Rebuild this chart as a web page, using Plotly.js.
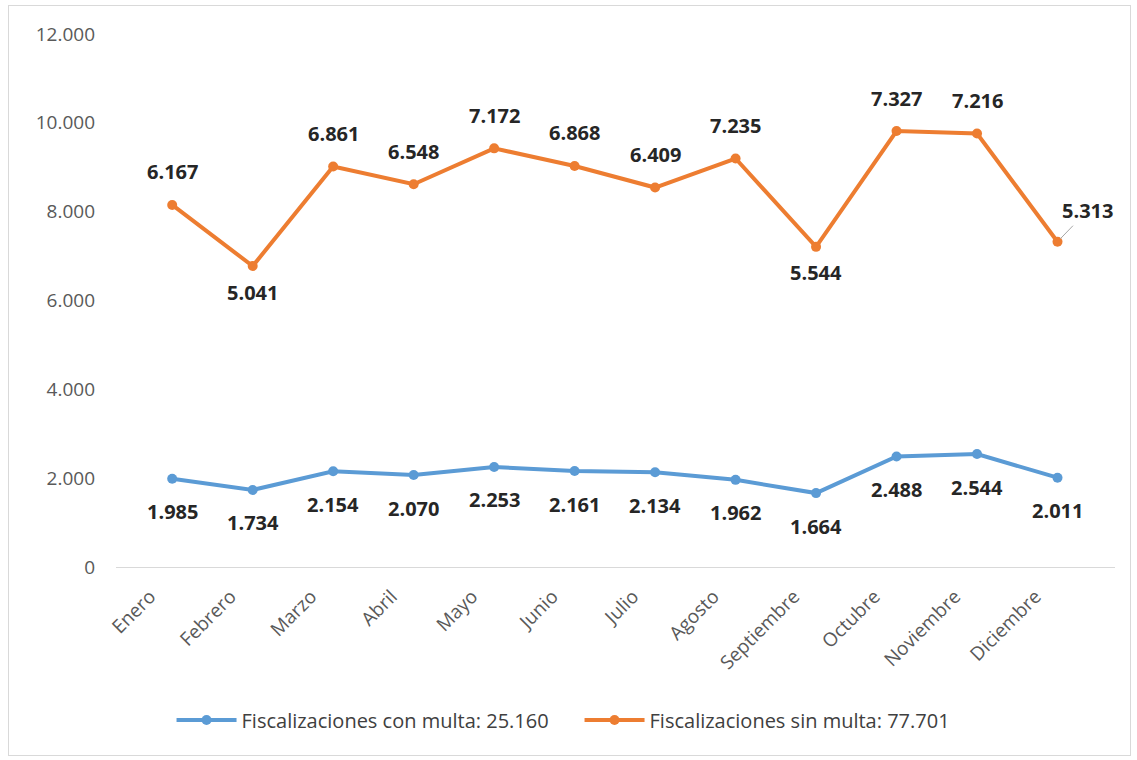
<!DOCTYPE html>
<html><head><meta charset="utf-8">
<script src="https://cdn.plot.ly/plotly-3.0.1.min.js"></script>
<style>
html,body{margin:0;padding:0;background:#fff;}
#frame{position:absolute;left:8px;top:5px;width:1121px;height:749px;border:1px solid #d9d9d9;}
#chart{position:absolute;left:0;top:0;width:1137px;height:760px;}
</style></head>
<body>
<div id="frame"></div>
<div id="chart"></div>
<script>
const months = ["Enero","Febrero","Marzo","Abril","Mayo","Junio","Julio","Agosto","Septiembre","Octubre","Noviembre","Diciembre"];
const conMulta = [1985,1734,2154,2070,2253,2161,2134,1962,1664,2488,2544,2011];
const sinMulta = [6167,5041,6861,6548,7172,6868,6409,7235,5544,7327,7216,5313];
const conMultaName = "Fiscalizaciones con multa: 25.160";
const sinMultaName = "Fiscalizaciones sin multa: 77.701";
// orange label placement: 1 = above, -1 = below, 0 = callout
const sinMultaLabelSide = [1,-1,1,1,1,1,1,1,-1,1,1,0];

const fmt = v => v.toLocaleString('de-DE');
const stacked = sinMulta.map((v,i)=>v+conMulta[i]);

const blue = '#5B9BD5', orange = '#ED7D31';
const traces = [
  {x:months, y:conMulta, name:conMultaName, type:'scatter', mode:'lines+markers',
   line:{color:blue,width:4}, marker:{color:blue,size:10}},
  {x:months, y:stacked, name:sinMultaName, type:'scatter', mode:'lines+markers',
   line:{color:orange,width:4}, marker:{color:orange,size:10}}
];
const lblFont = {family:'Open Sans, sans-serif', size:20, color:'#262626'};
const annotations = [];
conMulta.forEach((v,i)=>annotations.push({x:months[i], y:v, text:'<b>'+fmt(v)+'</b>', showarrow:false, yshift:-33, font:lblFont}));
sinMulta.forEach((v,i)=>{
  const s = sinMultaLabelSide[i];
  if (s===0) {
    annotations.push({x:months[i], y:stacked[i], text:'<b>'+fmt(v)+'</b>', showarrow:true, arrowhead:0, arrowwidth:1, arrowcolor:'#a6a6a6', ax:30, ay:-31, standoff:4, font:lblFont});
  } else {
    annotations.push({x:months[i], y:stacked[i], text:'<b>'+fmt(v)+'</b>', showarrow:false, yshift: s>0 ? 33 : -26, font:lblFont});
  }
});

const layout = {
  width:1137, height:760,
  margin:{l:116, r:22, t:34, b:193},
  paper_bgcolor:'rgba(0,0,0,0)', plot_bgcolor:'rgba(0,0,0,0)',
  separators:',.',
  font:{family:'Open Sans, sans-serif', color:'#595959', size:19},
  showlegend:true,
  legend:{orientation:'h', x:0.464, xanchor:'center', y:-0.287, yanchor:'middle', font:{size:20,color:'#404040'}, entrywidth:333, entrywidthmode:'pixels', itemwidth:60, tracegroupgap:0},
  xaxis:{type:'category', automargin:false, showgrid:false, zeroline:false, showline:true, linecolor:'#d9d9d9', linewidth:1, ticks:'', tickangle:-45, ticklabelstandoff:10, ticklabelshift:-22, tickfont:{size:19,color:'#595959'}, fixedrange:true},
  yaxis:{range:[0,12000], automargin:false, dtick:2000, tickformat:',d', showgrid:false, zeroline:false, showline:false, ticks:'', ticklen:0, ticklabelstandoff:20, tickfont:{size:19,color:'#595959'}, fixedrange:true},
  annotations:annotations
};
Plotly.newPlot('chart', traces, layout, {displayModeBar:false, staticPlot:true});
</script>
</body></html>
